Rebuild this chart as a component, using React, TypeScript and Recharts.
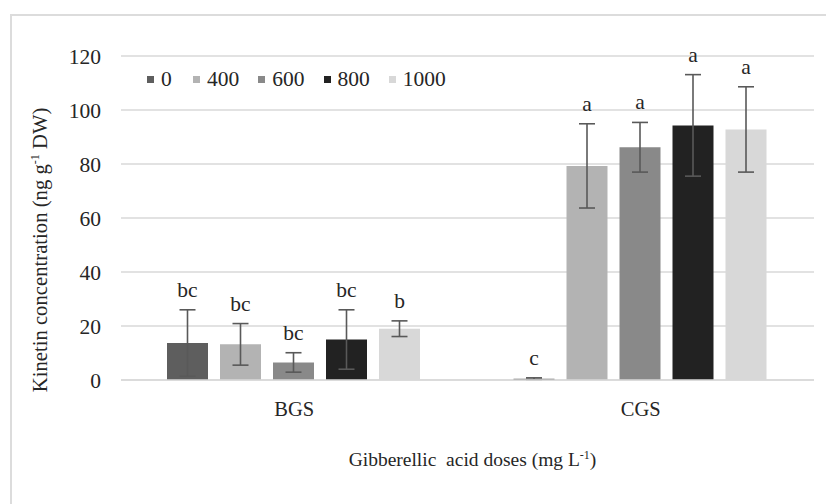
import React from 'react'
import { BarChart, Bar, XAxis, YAxis, CartesianGrid, ErrorBar, LabelList, Legend } from 'recharts'

const FONT = '"Liberation Serif", "Times New Roman", serif'
const TEXT = '#262626'

// Gibberellic acid doses (mg L-1)
const doses = ['0', '400', '600', '800', '1000']
const colors = ['#5e5e5e', '#b3b3b3', '#898989', '#222222', '#d8d8d8']

const groups = ['BGS', 'CGS']

// kinetin concentration per dose, per group (ng g-1 DW)
const means = [
  [13.7, 13.2, 6.5, 15.0, 19.0],
  [0.5, 79.3, 86.2, 94.3, 92.8],
]
const errors = [
  [12.3, 7.7, 3.6, 11.0, 2.9],
  [0.3, 15.6, 9.2, 18.8, 15.8],
]
const letters = [
  ['bc', 'bc', 'bc', 'bc', 'b'],
  ['c', 'a', 'a', 'a', 'a'],
]

const yTicks = [0, 20, 40, 60, 80, 100, 120]

const chartData = groups.map((g, gi) => {
  const row: Record<string, string | number> = { group: g }
  doses.forEach((_, i) => {
    row[`v${i}`] = means[gi][i]
    row[`e${i}`] = errors[gi][i]
    row[`l${i}`] = letters[gi][i]
  })
  return row
})

function renderLegend() {
  return (
    <div
      style={{
        display: 'flex',
        alignItems: 'center',
        fontFamily: FONT,
        fontSize: 21.5,
        color: TEXT,
        lineHeight: '24px',
        whiteSpace: 'nowrap',
        width: 340,
      }}
    >
      {doses.map((d, i) => (
        <div
          key={d}
          style={{
            display: 'flex',
            alignItems: 'center',
            flexShrink: 0,
            width: i === 0 ? 46 : undefined,
            marginRight: i === 0 ? 0 : 19,
          }}
        >
          <span style={{ display: 'inline-block', flexShrink: 0, width: 7, height: 7, background: colors[i], marginRight: 7 }} />
          <span>{d}</span>
        </div>
      ))}
    </div>
  )
}

// eslint-disable-next-line @typescript-eslint/no-explicit-any
function YTitle(props: any) {
  const { viewBox } = props
  const cy = viewBox.y + viewBox.height / 2 + 32
  return (
    <text
      x={47}
      y={cy}
      transform={`rotate(-90 47 ${cy})`}
      textAnchor="middle"
      fontFamily={FONT}
      fontSize={20.7}
      fill={TEXT}
    >
      Kinetin concentration (ng g
      <tspan fontSize={12} dy={-8}>-1</tspan>
      <tspan dy={8}> DW)</tspan>
    </text>
  )
}

// eslint-disable-next-line @typescript-eslint/no-explicit-any
function XTitle(props: any) {
  const { viewBox } = props
  const cx = viewBox.x + viewBox.width / 2 + 5
  return (
    <text x={cx} y={viewBox.y + 86} textAnchor="middle" fontFamily={FONT} fontSize={19.5} fill={TEXT} style={{ whiteSpace: 'pre' }}>
      {'Gibberellic  acid doses (mg L'}
      <tspan fontSize={12} dy={-7}>-1</tspan>
      <tspan dy={7}>)</tspan>
    </text>
  )
}

export default function App() {
  return (
    <div style={{ position: 'absolute', left: 0, top: 0, width: 826, height: 504, background: '#fff', overflow: 'hidden' }}>
      {/* chart frame */}
      <div
        style={{
          position: 'absolute',
          left: 10,
          top: 14,
          width: 840,
          height: 520,
          border: '2px solid #dcdcdc',
          boxSizing: 'border-box',
        }}
      />
      <div style={{ position: 'absolute', left: 0, top: 0 }}>
        <BarChart
          width={826}
          height={504}
          data={chartData}
          margin={{ top: 56, right: 12, bottom: 0, left: 0 }}
          barCategoryGap={46}
          barGap={12}
        >
          <CartesianGrid vertical={false} stroke="#d9d9d9" strokeWidth={1.5} />
          <XAxis
            dataKey="group"
            height={124}
            axisLine={{ stroke: '#d9d9d9', strokeWidth: 1.5 }}
            tickLine={false}
            tickSize={0}
            tickMargin={21}
            tick={{ fontFamily: FONT, fontSize: 20.5, fill: TEXT }}
            label={<XTitle />}
          />
          <YAxis
            width={121}
            domain={[0, 120]}
            ticks={yTicks}
            axisLine={false}
            tickLine={false}
            tickSize={0}
            tickMargin={20}
            tick={{ fontFamily: FONT, fontSize: 21.5, fill: TEXT }}
            label={<YTitle />}
          />
          <Legend
            layout="vertical"
            verticalAlign="middle"
            align="center"
            content={renderLegend}
            wrapperStyle={{ left: 147, top: 67, width: 340 }}
          />
          {doses.map((d, i) => (
            <Bar key={`v${i}`} dataKey={`v${i}`} stackId={`s${i}`} fill={colors[i]} isAnimationActive={false}>
              <ErrorBar dataKey={`e${i}`} width={8} stroke="#595959" strokeWidth={1.6} direction="y" />
            </Bar>
          ))}
          {doses.map((d, i) => (
            <Bar
              key={`e${i}`}
              dataKey={`e${i}`}
              stackId={`s${i}`}
              fill="transparent"
              legendType="none"
              isAnimationActive={false}
            >
              <LabelList dataKey={`l${i}`} position="top" offset={13} fontFamily={FONT} fontSize={21.5} fill={TEXT} />
            </Bar>
          ))}
        </BarChart>
      </div>
    </div>
  )
}
